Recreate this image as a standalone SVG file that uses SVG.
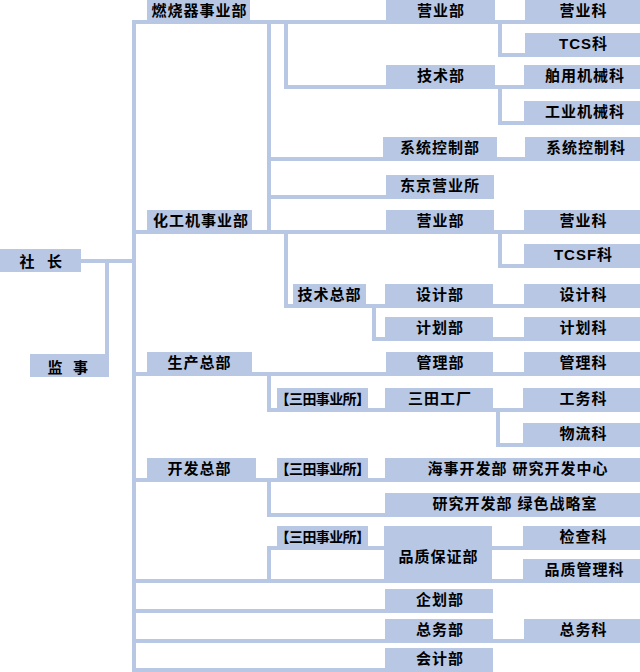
<svg xmlns="http://www.w3.org/2000/svg" width="640" height="672" viewBox="0 0 640 672">
<style>
.b{fill:#b7c7e4}
.t{font-family:"Liberation Sans","Noto Sans CJK SC",sans-serif;font-weight:bold;font-size:15px;letter-spacing:1px;text-anchor:middle;fill:#000}
.s{font-family:"Liberation Sans","Noto Sans CJK SC",sans-serif;font-weight:bold;font-size:14px;letter-spacing:-0.6px;text-anchor:middle;fill:#000}
.c{fill:none;stroke:#b7c7e4;stroke-width:4;stroke-linejoin:miter}
</style>
<rect width="640" height="672" fill="#fff"/>
<g id="connectors">
<path class="c" d="M493,670 H134 V22 H640"/>
<path class="c" d="M81,261 H134"/>
<path class="c" d="M107,261 V354"/>
<path class="c" d="M269,22 V232"/>
<path class="c" d="M286,22 V87 H640"/>
<path class="c" d="M500,22 V55 H640"/>
<path class="c" d="M500,87 V123 H640"/>
<path class="c" d="M269,159 H640"/>
<path class="c" d="M269,197 H494"/>
<path class="c" d="M134,232 H640"/>
<path class="c" d="M286,232 V306 H640"/>
<path class="c" d="M500,232 V266 H640"/>
<path class="c" d="M374,306 V339 H640"/>
<path class="c" d="M134,374 H640"/>
<path class="c" d="M269,374 V410 H640"/>
<path class="c" d="M498,410 V445 H640"/>
<path class="c" d="M134,480 H640"/>
<path class="c" d="M269,480 V515 H640"/>
<path class="c" d="M640,548 H269 V581"/>
<path class="c" d="M134,581 H640"/>
<path class="c" d="M134,611 H493"/>
<path class="c" d="M134,641 H640"/>
</g>
<g id="president"><rect class="b" x="0" y="249" width="81" height="23"/><text class="t" y="267"><tspan x="27.5">社</tspan><tspan x="55">长</tspan></text></g>
<g id="auditor"><rect class="b" x="30" y="354" width="79" height="23"/><text class="t" y="372.5"><tspan x="55.5">监</tspan><tspan x="81">事</tspan></text></g>
<g id="burner"><rect class="b" x="147" y="0" width="103" height="20"/><text class="t" x="199.5" y="16">燃烧器事业部</text></g>
<g id="burner-sales"><rect class="b" x="386" y="0" width="109" height="20"/><text class="t" x="441" y="16">营业部</text></g>
<g id="burner-sales-sec"><rect class="b" x="525" y="0" width="115" height="20"/><text class="t" x="583.5" y="16">营业科</text></g>
<g id="tcs-sec"><rect class="b" x="525" y="33" width="115" height="20"/><text class="t" x="583.5" y="49">TCS科</text></g>
<g id="burner-tech"><rect class="b" x="386" y="65" width="109" height="20"/><text class="t" x="441" y="81">技术部</text></g>
<g id="marine-mach"><rect class="b" x="524" y="65" width="116" height="20"/><text class="t" x="585" y="81">舶用机械科</text></g>
<g id="ind-mach"><rect class="b" x="524" y="101" width="116" height="20"/><text class="t" x="585" y="117">工业机械科</text></g>
<g id="sys-ctrl-dept"><rect class="b" x="383" y="137" width="114" height="20"/><text class="t" x="440" y="153">系统控制部</text></g>
<g id="sys-ctrl-sec"><rect class="b" x="525" y="137" width="115" height="20"/><text class="t" x="586" y="153">系统控制科</text></g>
<g id="tokyo"><rect class="b" x="386" y="175" width="108" height="20"/><text class="t" x="440" y="191">东京营业所</text></g>
<g id="chem"><rect class="b" x="147" y="210" width="105" height="20"/><text class="t" x="201" y="226">化工机事业部</text></g>
<g id="chem-sales"><rect class="b" x="386" y="210" width="108" height="20"/><text class="t" x="440.5" y="226">营业部</text></g>
<g id="chem-sales-sec"><rect class="b" x="524" y="210" width="116" height="20"/><text class="t" x="583.5" y="226">营业科</text></g>
<g id="tcsf-sec"><rect class="b" x="524" y="244" width="116" height="20"/><text class="t" x="583.5" y="260">TCSF科</text></g>
<g id="tech-hq"><rect class="b" x="293" y="284" width="73" height="20"/><text class="t" x="329.5" y="300">技术总部</text></g>
<g id="design-dept"><rect class="b" x="385" y="284" width="108" height="20"/><text class="t" x="440" y="300">设计部</text></g>
<g id="design-sec"><rect class="b" x="524" y="284" width="116" height="20"/><text class="t" x="583.5" y="300">设计科</text></g>
<g id="plan-dept"><rect class="b" x="385" y="317" width="108" height="20"/><text class="t" x="440" y="333">计划部</text></g>
<g id="plan-sec"><rect class="b" x="524" y="317" width="116" height="20"/><text class="t" x="583.5" y="333">计划科</text></g>
<g id="prod-hq"><rect class="b" x="147" y="352" width="105" height="20"/><text class="t" x="199.5" y="368">生产总部</text></g>
<g id="mgmt-dept"><rect class="b" x="386" y="352" width="107" height="20"/><text class="t" x="440.5" y="368">管理部</text></g>
<g id="mgmt-sec"><rect class="b" x="524" y="352" width="116" height="20"/><text class="t" x="583.5" y="368">管理科</text></g>
<g id="sanda-1"><rect class="b" x="277" y="388" width="91" height="20"/><text class="s" x="322.5" y="403.5">【三田事业所】</text></g>
<g id="sanda-factory"><rect class="b" x="385" y="388" width="108" height="20"/><text class="t" x="440" y="404">三田工厂</text></g>
<g id="works-sec"><rect class="b" x="523" y="388" width="117" height="20"/><text class="t" x="583.5" y="404">工务科</text></g>
<g id="logistics-sec"><rect class="b" x="523" y="423" width="117" height="20"/><text class="t" x="583.5" y="439">物流科</text></g>
<g id="dev-hq"><rect class="b" x="147" y="458" width="109" height="20"/><text class="t" x="199.5" y="474">开发总部</text></g>
<g id="sanda-2"><rect class="b" x="277" y="458" width="91" height="20"/><text class="s" x="322.5" y="473.5">【三田事业所】</text></g>
<g id="marine-rd"><rect class="b" x="385" y="458" width="255" height="20"/><text class="t" x="518" y="474">海事开发部 研究开发中心</text></g>
<g id="green-strategy"><rect class="b" x="385" y="493" width="255" height="20"/><text class="t" x="515" y="509">研究开发部 绿色战略室</text></g>
<g id="sanda-3"><rect class="b" x="277" y="526" width="91" height="20"/><text class="s" x="322.5" y="541.5">【三田事业所】</text></g>
<g id="qa-dept"><rect class="b" x="384" y="526" width="108" height="53"/><text class="t" x="438.5" y="562">品质保证部</text></g>
<g id="inspect-sec"><rect class="b" x="523" y="526" width="117" height="20"/><text class="t" x="583.5" y="542">检查科</text></g>
<g id="qm-sec"><rect class="b" x="523" y="559" width="117" height="20"/><text class="t" x="584.5" y="575">品质管理科</text></g>
<g id="planning"><rect class="b" x="385" y="589" width="108" height="20"/><text class="t" x="440" y="605">企划部</text></g>
<g id="general-affairs"><rect class="b" x="385" y="619" width="108" height="20"/><text class="t" x="440" y="635">总务部</text></g>
<g id="ga-sec"><rect class="b" x="524" y="619" width="116" height="20"/><text class="t" x="583.5" y="635">总务科</text></g>
<g id="accounting"><rect class="b" x="385" y="648" width="108" height="20"/><text class="t" x="440" y="664">会计部</text></g>
</svg>
